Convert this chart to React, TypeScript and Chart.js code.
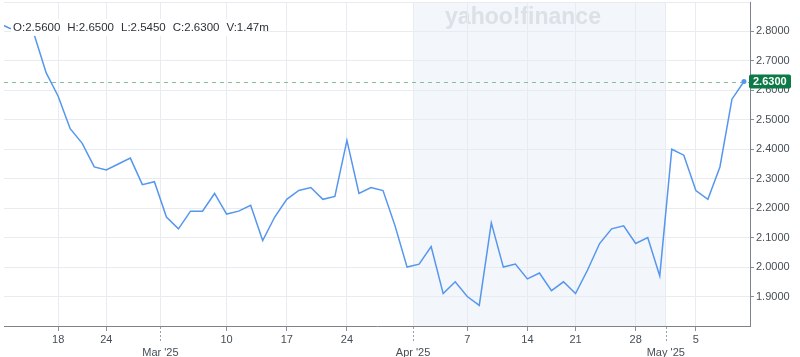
import React, { useEffect, useRef } from "react";
import { Chart, registerables } from "chart.js";

Chart.register(...registerables);

const FONT = "'Liberation Sans', Arial, Helvetica, sans-serif";

const tradingDates = [
  "2025-02-10", "2025-02-11", "2025-02-12", "2025-02-13", "2025-02-14",
  "2025-02-18", "2025-02-19", "2025-02-20", "2025-02-21",
  "2025-02-24", "2025-02-25", "2025-02-26", "2025-02-27", "2025-02-28",
  "2025-03-03", "2025-03-04", "2025-03-05", "2025-03-06", "2025-03-07",
  "2025-03-10", "2025-03-11", "2025-03-12", "2025-03-13", "2025-03-14",
  "2025-03-17", "2025-03-18", "2025-03-19", "2025-03-20", "2025-03-21",
  "2025-03-24", "2025-03-25", "2025-03-26", "2025-03-27", "2025-03-28",
  "2025-03-31",
  "2025-04-01", "2025-04-02", "2025-04-03", "2025-04-04",
  "2025-04-07", "2025-04-08", "2025-04-09", "2025-04-10", "2025-04-11",
  "2025-04-14", "2025-04-15", "2025-04-16", "2025-04-17",
  "2025-04-21", "2025-04-22", "2025-04-23", "2025-04-24", "2025-04-25",
  "2025-04-28", "2025-04-29", "2025-04-30",
  "2025-05-01", "2025-05-02", "2025-05-05", "2025-05-06", "2025-05-07",
  "2025-05-08", "2025-05-09",
];

const closeValues = [
  2.83, 2.81, 2.81, 2.79, 2.66,
  2.58, 2.47, 2.42, 2.34,
  2.33, 2.35, 2.37, 2.28, 2.29,
  2.17, 2.13, 2.19, 2.19, 2.25,
  2.18, 2.19, 2.21, 2.09, 2.17,
  2.23, 2.26, 2.27, 2.23, 2.24,
  2.43, 2.25, 2.27, 2.26, 2.14,
  2.0,
  2.01, 2.07, 1.91, 1.95,
  1.9, 1.87, 2.15, 2.0, 2.01,
  1.96, 1.98, 1.92, 1.95,
  1.91, 1.99, 2.08, 2.13, 2.14,
  2.08, 2.1, 1.97,
  2.4, 2.38, 2.26, 2.23, 2.34,
  2.57, 2.63,
];

const lastClose = 2.63;
const lastCloseLabel = "2.6300";

const dayTickDates = [
  "2025-02-18", "2025-02-24", "2025-03-10", "2025-03-17", "2025-03-24",
  "2025-04-07", "2025-04-14", "2025-04-21", "2025-04-28", "2025-05-05",
];
const dayTickLabels = ["18", "24", "10", "17", "24", "7", "14", "21", "28", "5"];

const monthStartDates = ["2025-03-03", "2025-04-01", "2025-05-01"];
const monthTickLabels = ["Mar '25", "Apr '25", "May '25"];

const yTickValues = [1.9, 2.0, 2.1, 2.2, 2.3, 2.4, 2.5, 2.6, 2.7, 2.8];
const yMin = 1.8;
const yMax = 2.9;

const quoteLabels = ["O:2.5600", "H:2.6500", "L:2.5450", "C:2.6300", "V:1.47m"];
const watermarkText = "yahoo!finance";

const shadedRange = ["2025-04-01", "2025-05-01"];

const idx = (d: string) => tradingDates.indexOf(d);

export default function App() {
  const ref = useRef<HTMLCanvasElement>(null);

  useEffect(() => {
    document.body.style.margin = "0";
    Chart.defaults.font.family = FONT;

    const tickMap = new Map<number, string | string[]>();
    dayTickDates.forEach((d, i) => tickMap.set(idx(d), dayTickLabels[i]));
    const monthPos = monthStartDates.map((d) => idx(d) - 0.5);
    monthPos.forEach((p, i) => tickMap.set(p, ["", monthTickLabels[i]]));
    const tickValues = Array.from(tickMap.keys()).sort((a, b) => a - b);

    const n = tradingDates.length;
    const lineColor = "#5596ee";

    const decor = {
      id: "decor",
      beforeDraw(chart: any) {
        const { ctx, chartArea, scales } = chart;
        const x = scales.x;
        const x0 = x.getPixelForValue(idx(shadedRange[0]) - 0.5);
        const x1 = x.getPixelForValue(idx(shadedRange[1]) - 0.5);
        ctx.save();
        ctx.fillStyle = "#f3f6fa";
        ctx.fillRect(x0, chartArea.top, x1 - x0, chartArea.bottom - chartArea.top);
        ctx.font = "bold 23px " + FONT;
        ctx.fillStyle = "#dce1e7";
        ctx.textAlign = "center";
        ctx.textBaseline = "alphabetic";
        ctx.fillText(watermarkText, 523, 24);
        ctx.restore();
      },
      beforeDatasetsDraw(chart: any) {
        const { ctx, chartArea, scales } = chart;
        const y = scales.y.getPixelForValue(lastClose);
        ctx.save();
        ctx.strokeStyle = "#86bf9f";
        ctx.lineWidth = 1;
        ctx.setLineDash([4, 4]);
        ctx.beginPath();
        ctx.moveTo(chartArea.left, Math.round(y) + 0.5);
        ctx.lineTo(chartArea.right, Math.round(y) + 0.5);
        ctx.stroke();
        ctx.restore();
      },
      afterDraw(chart: any) {
        const { ctx, chartArea, scales } = chart;
        ctx.save();
        // quote box
        ctx.fillStyle = "#ffffff";
        ctx.fillRect(11, 19, 252, 17);
        ctx.font = "11.5px " + FONT;
        ctx.fillStyle = "#2c3238";
        ctx.textBaseline = "middle";
        ctx.textAlign = "left";
        let tx = 13;
        quoteLabels.forEach((t) => {
          ctx.fillText(t, tx, 28);
          tx += ctx.measureText(t).width + 7;
        });
        // month dashed ticks
        ctx.strokeStyle = "#9aa0a6";
        ctx.lineWidth = 1;
        ctx.setLineDash([2, 2]);
        monthPos.forEach((p) => {
          const px = Math.round(scales.x.getPixelForValue(p)) + 0.5;
          ctx.beginPath();
          ctx.moveTo(px, chartArea.bottom + 1);
          ctx.lineTo(px, chartArea.bottom + 17);
          ctx.stroke();
        });
        ctx.setLineDash([]);
        // price tag
        const y = scales.y.getPixelForValue(lastClose);
        const left = chartArea.right - 1;
        ctx.fillStyle = "#0b7a47";
        ctx.beginPath();
        (ctx as any).roundRect(left, y - 7, 42, 14, 2);
        ctx.fill();
        ctx.fillStyle = "#ffffff";
        ctx.font = "bold 11px " + FONT;
        ctx.textBaseline = "middle";
        ctx.fillText(lastCloseLabel, left + 4, y + 0.5);
        ctx.restore();
      },
    };

    const chart = new Chart(ref.current as HTMLCanvasElement, {
      type: "line",
      data: {
        datasets: [
          {
            data: tradingDates.map((d, i) => ({ x: i, y: closeValues[i] })),
            borderColor: lineColor,
            backgroundColor: lineColor,
            borderWidth: 1.5,
            tension: 0,
            fill: false,
            pointRadius: (c: any) => (c.dataIndex === n - 1 ? 2.5 : 0),
            pointBorderWidth: 0,
            pointBackgroundColor: lineColor,
          },
        ],
      },
      options: {
        animation: false,
        responsive: false,
        maintainAspectRatio: false,
        layout: { autoPadding: false, padding: { top: 2, left: 4, right: 0, bottom: 0 } },
        plugins: { legend: { display: false }, tooltip: { enabled: false } },
        scales: {
          x: {
            type: "linear",
            position: "bottom",
            min: 0.5,
            max: n - 0.5,
            afterBuildTicks: (s: any) => {
              s.ticks = tickValues.map((v) => ({ value: v }));
            },
            afterFit: (s: any) => {
              s.height = 31;
              s.paddingLeft = 0;
              s.paddingRight = 0;
            },
            ticks: {
              autoSkip: false,
              maxRotation: 0,
              minRotation: 0,
              padding: 2,
              color: "#464e56",
              font: { size: 11, family: FONT },
              callback: (v: any) => tickMap.get(v) ?? "",
            },
            grid: {
              color: "#e8ebef",
              tickLength: 5,
              tickColor: (c: any) =>
                c.tick && Number.isInteger(c.tick.value) ? "#8a9097" : "rgba(0,0,0,0)",
            },
            border: { display: true, color: "#7d838a", width: 1 },
          },
          y: {
            type: "linear",
            position: "right",
            min: yMin,
            max: yMax,
            afterBuildTicks: (s: any) => {
              s.ticks = [...yTickValues, yMax].map((v) => ({ value: v }));
            },
            afterFit: (s: any) => {
              s.width = 50;
              s.paddingTop = 0;
              s.paddingBottom = 0;
            },
            ticks: {
              padding: 2,
              color: "#464e56",
              font: { size: 11, family: FONT },
              callback: (v: any) =>
                yTickValues.some((t) => Math.abs(t - v) < 1e-9) ? Number(v).toFixed(4) : "",
            },
            grid: {
              color: "#e8ebef",
              tickLength: 4,
              tickColor: (c: any) =>
                c.tick && c.tick.value < yMax - 0.05 ? "#8a9097" : "rgba(0,0,0,0)",
            },
            border: { display: true, color: "#7d838a", width: 1 },
          },
        },
      },
      plugins: [decor],
    } as any);

    return () => chart.destroy();
  }, []);

  return (
    <div style={{ position: "fixed", left: 0, top: 0, width: 800, height: 357, background: "#fff" }}>
      <canvas ref={ref} width={800} height={357} style={{ display: "block", width: 800, height: 357 }} />
    </div>
  );
}
